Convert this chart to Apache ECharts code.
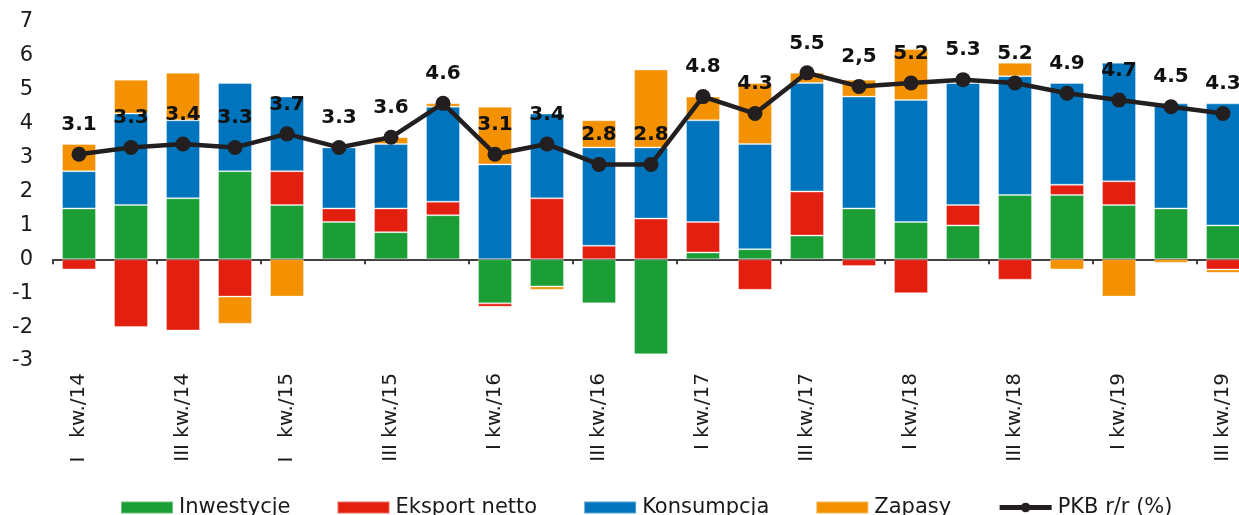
<!DOCTYPE html>
<html>
<head>
<meta charset="utf-8">
<script src="https://cdn.jsdelivr.net/npm/echarts@6/dist/echarts.min.js"></script>
<style>
html,body{margin:0;padding:0;background:#fff;}
#chart{width:1239px;height:515px;}
</style>
</head>
<body>
<div id="chart"></div>
<script>
var categories = [
  "I   kw./14","II kw./14","III kw./14","IV kw./14",
  "I   kw./15","II kw./15","III kw./15","IV kw./15",
  "I kw./16","II kw./16","III kw./16","IV kw./16",
  "I kw./17","II kw./17","III kw./17","IV kw./17",
  "I kw./18","II kw./18","III kw./18","IV kw./18",
  "I kw./19","II kw./19","III kw./19"
];
var inwestycje = [1.5,1.6,1.8,2.6,1.6,1.1,0.8,1.3,-1.3,-0.8,-1.3,-2.8,0.2,0.3,0.7,1.5,1.1,1.0,1.9,1.9,1.6,1.5,1.0];
var eksportNetto = [-0.3,-2.0,-2.1,-1.1,1.0,0.4,0.7,0.4,-0.1,1.8,0.4,1.2,0.9,-0.9,1.3,-0.2,-1.0,0.6,-0.6,0.3,0.7,0,-0.3];
var konsumpcja = [1.1,2.7,2.3,2.6,2.2,1.8,1.9,2.8,2.8,2.5,2.9,2.1,3.0,3.1,3.2,3.3,3.6,3.6,3.5,3.0,3.5,3.1,3.6];
var zapasy = [0.8,1.0,1.4,-0.8,-1.1,0,0.2,0.1,1.7,-0.1,0.8,2.3,0.7,1.8,0.3,0.5,1.5,0,0.4,-0.3,-1.1,-0.1,-0.1];
var pkb = [3.1,3.3,3.4,3.3,3.7,3.3,3.6,4.6,3.1,3.4,2.8,2.8,4.8,4.3,5.5,5.1,5.2,5.3,5.2,4.9,4.7,4.5,4.3];
var pkbLabels = ["3.1","3.3","3.4","3.3","3.7","3.3","3.6","4.6","3.1","3.4","2.8","2.8","4.8","4.3","5.5","2,5","5.2","5.3","5.2","4.9","4.7","4.5","4.3"];
var yTicks = {min:-3, max:7, interval:1};

var FONT = "DejaVu Sans";
var chart = echarts.init(document.getElementById('chart'), null, {renderer:'canvas'});

function barSeries(name, data, color){
  return {
    name: name, type: 'bar', stack: 'total', data: data,
    xAxisIndex: 0, barWidth: 34,
    itemStyle: {color: color, borderColor: 'rgba(255,255,255,0.35)', borderWidth: 1},
    emphasis: {disabled: true}
  };
}

var option = {
  animation: false,
  backgroundColor: '#ffffff',
  textStyle: {fontFamily: FONT},
  grid: {left: 53, right: -10, top: 22, bottom: 154, containLabel: false, outerBoundsMode: 'none'},
  legend: {
    left: 120, top: 497, padding: 0, itemGap: 46, itemWidth: 52, itemHeight: 12,
    textStyle: {fontFamily: FONT, fontSize: 21, color: '#1a1a1a', padding: [0,0,0,1]},
    data: [
      {name: 'Inwestycje', icon: 'rect'},
      {name: 'Eksport netto', icon: 'rect'},
      {name: 'Konsumpcja', icon: 'rect'},
      {name: 'Zapasy', icon: 'rect'},
      {name: 'PKB r/r (%)', lineStyle: {width: 5, color: '#231F20'}, itemStyle: {color: '#231F20'}}
    ]
  },
  xAxis: [
    {
      type: 'category', data: categories, boundaryGap: true,
      axisLine: {onZero: true, lineStyle: {color: '#404040', width: 2}},
      axisTick: {show: true, length: 5, lineStyle: {color: '#404040', width: 2}},
      axisLabel: {show: false},
      splitLine: {show: false}
    },
    {
      type: 'category', data: categories, boundaryGap: true, position: 'bottom',
      axisLine: {show: false, onZero: false},
      axisTick: {show: false},
      axisLabel: {show: true, interval: 1, rotate: 90, margin: 12,
        fontFamily: FONT, fontSize: 20, color: '#1a1a1a'},
      splitLine: {show: false}
    }
  ],
  yAxis: {
    type: 'value', min: yTicks.min, max: yTicks.max, interval: yTicks.interval,
    axisLine: {show: false}, axisTick: {show: false}, splitLine: {show: false},
    axisLabel: {margin: 20, fontFamily: FONT, fontSize: 21, color: '#1a1a1a'}
  },
  series: [
    barSeries('Inwestycje', inwestycje, '#1B9E36'),
    barSeries('Eksport netto', eksportNetto, '#E31F10'),
    barSeries('Konsumpcja', konsumpcja, '#0075BD'),
    barSeries('Zapasy', zapasy, '#F39100'),
    {
      name: 'PKB r/r (%)', type: 'line', data: pkb, xAxisIndex: 0, z: 5,
      symbol: 'circle', symbolSize: 15,
      lineStyle: {color: '#231F20', width: 4.5},
      itemStyle: {color: '#231F20'},
      emphasis: {disabled: true},
      label: {
        show: true, position: 'top', distance: 12,
        fontFamily: FONT, fontWeight: 'bold', fontSize: 20, color: '#111',
        formatter: function(p){ return pkbLabels[p.dataIndex]; }
      }
    }
  ]
};
chart.setOption(option);
</script>
</body>
</html>
